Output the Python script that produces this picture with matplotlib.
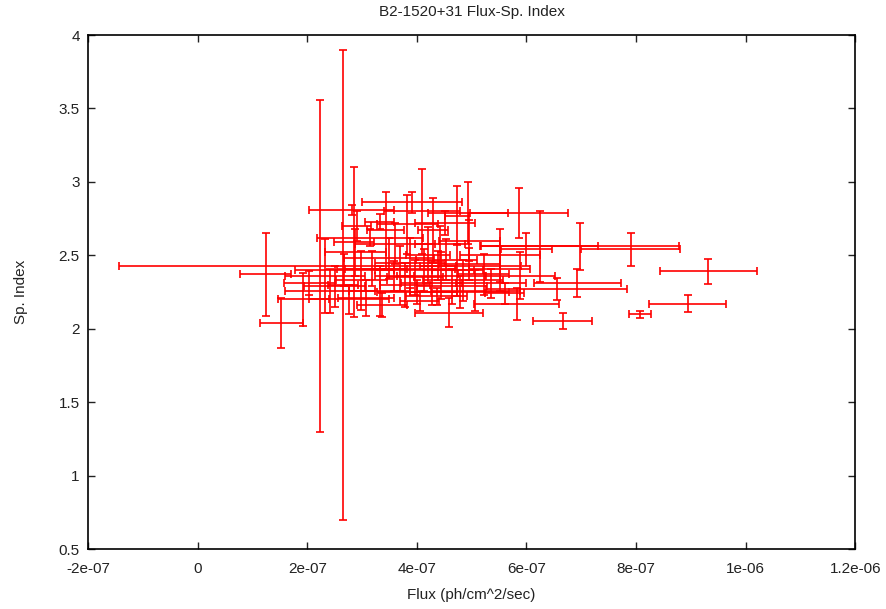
import matplotlib.pyplot as plt

plt.rcParams['font.family'] = ['Liberation Sans Narrow', 'Liberation Sans', 'DejaVu Sans']

# flux in units of 1e-7 ph/cm^2/sec
flux = [9.32, 8.94, 8.08, 7.90, 6.66, 4.58, 5.82, 5.86, 6.24, 6.97,
        6.00, 6.93, 6.55, 1.24, 1.53, 1.93, 2.24, 2.65, 2.85, 2.81,
        3.43, 4.09, 4.29, 4.73, 4.93, 3.83, 3.14, 3.32,
        2.50, 2.77, 2.99, 3.18, 3.32, 3.50, 3.59, 3.69, 3.78, 3.87,
        3.96, 4.01, 4.14, 4.20, 4.27, 4.38, 4.45, 4.54, 4.64, 4.74,
        4.84, 4.96, 5.07, 5.22, 5.36, 5.51, 5.60, 3.07, 3.36, 2.68,
        2.41, 2.88, 3.61, 4.42, 4.96, 5.51, 5.88, 4.05, 4.36, 4.78,
        2.04, 2.32, 2.90, 3.91, 4.51]
flux_err = [0.88, 0.70, 0.20, 0.91, 0.54, 0.62, 0.78, 0.89, 1.06, 1.82,
            0.46, 0.80, 1.28, 0.47, 0.40, 0.47, 3.67, 0.27, 0.36, 0.78,
            0.33, 0.69, 0.27, 0.22, 0.73, 0.55, 0.97, 0.27,
            0.55, 0.73, 0.46, 0.64, 0.55, 0.82, 0.36, 1.00, 0.46, 0.64,
            0.51, 0.73, 0.91, 0.40, 0.55, 0.33, 0.82, 0.55, 0.64, 0.46,
            0.73, 0.55, 0.82, 0.46, 0.64, 0.55, 0.36, 0.51, 0.46, 0.91,
            0.82, 0.55, 0.73, 0.46, 0.55, 0.73, 0.64, 0.36, 0.55, 0.91,
            0.46, 0.73, 0.27, 0.91, 0.55]
index = [2.39, 2.17, 2.10, 2.54, 2.05, 2.11, 2.17, 2.79, 2.56, 2.56,
         2.54, 2.31, 2.27, 2.37, 2.04, 2.20, 2.43, 2.30, 2.59, 2.81,
         2.67, 2.80, 2.67, 2.77, 2.79, 2.71, 2.62, 2.73,
         2.29, 2.20, 2.33, 2.41, 2.26, 2.48, 2.36, 2.41, 2.30, 2.45,
         2.35, 2.25, 2.40, 2.50, 2.31, 2.43, 2.36, 2.47, 2.29, 2.40,
         2.33, 2.44, 2.26, 2.37, 2.31, 2.41, 2.24, 2.21, 2.16, 2.40,
         2.26, 2.52, 2.58, 2.58, 2.60, 2.50, 2.36, 2.19, 2.22, 2.25,
         2.31, 2.36, 2.70, 2.86, 2.72]
index_err = [0.085, 0.058, 0.024, 0.11, 0.054, 0.099, 0.11, 0.17, 0.245, 0.16,
             0.11, 0.095, 0.075, 0.28, 0.17, 0.18, 1.13, 1.60, 0.51, 0.034,
             0.26, 0.29, 0.22, 0.20, 0.21, 0.20, 0.06, 0.05,
             0.14, 0.10, 0.20, 0.12, 0.17, 0.14, 0.10, 0.15, 0.15, 0.17,
             0.12, 0.08, 0.14, 0.19, 0.15, 0.10, 0.16, 0.14, 0.12, 0.18,
             0.14, 0.11, 0.14, 0.14, 0.10, 0.15, 0.07, 0.12, 0.08, 0.11,
             0.15, 0.16, 0.14, 0.12, 0.14, 0.18, 0.16, 0.07, 0.06, 0.11,
             0.08, 0.25, 0.10, 0.07, 0.08]

xticks = [-2e-7, 0, 2e-7, 4e-7, 6e-7, 8e-7, 1e-6, 1.2e-6]
xtick_labels = ["-2e-07", "0", "2e-07", "4e-07", "6e-07", "8e-07", "1e-06", "1.2e-06"]
yticks = [0.5, 1, 1.5, 2, 2.5, 3, 3.5, 4]
ytick_labels = ["0.5", "1", "1.5", "2", "2.5", "3", "3.5", "4"]

x = [v * 1e-7 for v in flux]
xe = [v * 1e-7 for v in flux_err]

fig = plt.figure(figsize=(8.87, 6.09), dpi=100)
ax = fig.add_axes([0.0992, 0.0985, 0.865, 0.844])

ax.errorbar(x, index, xerr=xe, yerr=index_err, fmt='none', ecolor='#ff0000',
            elinewidth=1.2, capsize=3, capthick=1.2)

ax.set_xlim(-2e-7, 1.2e-6)
ax.set_ylim(0.5, 4)
ax.set_xticks(xticks)
ax.set_xticklabels(xtick_labels)
ax.set_yticks(yticks)
ax.set_yticklabels(ytick_labels)
ax.tick_params(direction='in', top=True, right=True, length=5, width=1,
               labelsize=11, colors='#222222')
ax.tick_params(axis='x', pad=9)
ax.tick_params(axis='y', pad=6)
for s in ax.spines.values():
    s.set_linewidth(1.2)

ax.set_title("B2-1520+31 Flux-Sp. Index", fontsize=11, pad=14, color='#222222')
ax.set_xlabel("Flux (ph/cm^2/sec)", fontsize=11, labelpad=9, color='#222222')
ax.set_ylabel("Sp. Index", fontsize=11, labelpad=22, color='#222222')

fig.savefig("out.png", dpi=100)
